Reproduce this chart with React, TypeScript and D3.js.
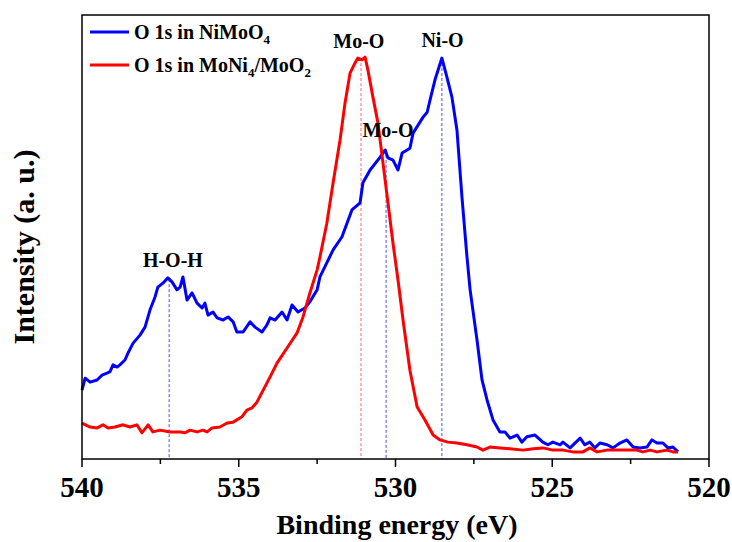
import React from "react";
import * as d3 from "d3";

const blueEnergy = [540.0,539.9,539.74,539.52,539.36,539.11,539.01,538.88,538.79,538.63,538.53,538.37,538.15,537.99,537.83,537.67,537.58,537.42,537.26,537.13,536.97,536.87,536.78,536.65,536.49,536.33,536.17,536.08,535.98,535.82,535.69,535.5,535.34,535.18,535.06,534.86,534.64,534.48,534.26,534.1,534.0,533.84,533.62,533.46,533.3,533.11,532.89,532.73,532.5,532.41,531.99,531.71,531.39,531.13,531.04,530.81,530.49,530.33,530.24,530.08,529.92,529.79,529.63,529.54,529.44,529.28,529.12,528.99,528.9,528.74,528.52,528.36,528.2,528.04,527.88,527.72,527.62,527.4,527.24,527.08,526.89,526.67,526.51,526.35,526.12,525.97,525.81,525.55,525.3,525.14,524.98,524.75,524.66,524.43,524.11,523.96,523.8,523.64,523.48,523.25,523.06,522.84,522.62,522.42,522.2,521.98,521.82,521.66,521.47,521.31,521.15,520.99];
const blueIntensity = [15.5,18.2,17.3,17.8,18.9,19.6,21.2,20.7,21.2,22.3,23.9,26.1,27.9,29.7,33.6,36.5,38.7,39.6,40.8,39.9,38.1,38.7,41.0,35.8,37.4,35.1,34.0,35.1,32.4,33.1,31.8,31.3,32.0,30.9,28.6,28.6,30.9,29.7,28.6,30.2,31.8,31.3,33.1,31.3,34.7,33.1,34.0,35.4,38.1,41.0,47.1,50.0,56.1,57.7,62.2,65.1,68.0,69.6,67.8,67.3,65.1,68.9,69.6,70.0,73.4,75.2,77.0,78.1,80.8,85.4,90.3,86.0,81.5,74.1,59.0,45.5,38.1,26.8,17.8,13.3,8.8,6.1,6.1,4.7,5.4,3.8,5.0,5.4,3.8,3.2,3.8,3.2,3.8,2.5,4.7,3.2,3.8,2.5,3.6,3.2,2.5,3.6,4.3,2.7,2.5,2.7,4.3,3.6,3.6,2.5,2.7,1.6];

const redEnergy = [540.0,539.74,539.52,539.33,539.17,538.95,538.69,538.47,538.25,538.09,537.89,537.74,537.51,537.19,536.87,536.71,536.56,536.33,536.14,536.01,535.85,535.6,535.37,535.18,534.9,534.74,534.58,534.42,534.0,533.78,533.46,533.14,532.95,532.73,532.5,532.41,532.19,531.99,531.77,531.61,531.45,531.29,531.2,531.07,530.97,530.88,530.72,530.56,530.4,530.24,530.08,529.92,529.76,529.54,529.31,529.06,528.8,528.58,528.33,528.04,527.72,527.4,527.21,526.99,526.67,526.35,525.93,525.61,525.3,524.98,524.66,524.34,524.02,523.8,523.57,523.25,522.93,522.62,522.3,522.11,521.88,521.66,521.34,521.15,520.99];
const redIntensity = [8.1,7.2,7.0,7.7,7.0,7.2,7.7,7.2,7.7,5.9,7.7,6.1,6.5,6.1,6.1,5.9,6.5,6.1,6.5,6.1,7.0,7.2,8.1,8.3,9.5,11.0,11.5,12.8,18.5,21.6,25.0,28.4,32.0,37.4,42.6,45.5,53.1,62.2,71.8,80.2,86.9,89.2,90.3,89.9,90.5,87.6,81.5,75.7,66.7,57.7,48.6,40.3,31.3,20.0,11.7,8.8,5.4,4.3,3.8,3.6,3.2,2.7,2.0,2.7,2.5,2.3,2.0,2.3,2.5,2.0,2.0,1.6,1.6,2.5,1.6,2.0,2.0,2.0,2.0,1.6,2.0,1.6,2.0,1.6,1.6];

const majorTicks = [540, 535, 530, 525, 520];
const minorTicks = [537.5, 532.5, 527.5, 522.5];

// reference lines: energy, top intensity, colour
const refEnergy = [531.1, 530.3, 528.52, 537.22];
const refTop = [90.3, 68.5, 90.3, 40.5];
const refColor = ["#ff6666", "#4d4dff", "#4d4dff", "#4d4dff"];

const peakLabels = ["Mo-O", "Ni-O", "Mo-O", "H-O-H"];
const peakEnergy = [531.17, 528.5, 530.24, 537.1];
const peakIntensity = [92.5, 92.8, 72.5, 43.2];

const W = 732, H = 542;
const left = 82, right = 709, top = 15, bottom = 459;
const FONT = "'Liberation Serif', 'Times New Roman', serif";

export default function App() {
  const x = d3.scaleLinear().domain([540, 520]).range([left, right]);
  const y = d3.scaleLinear().domain([0, 100]).range([bottom, top]);
  const line = d3.line<[number, number]>().x(d => x(d[0])).y(d => y(d[1]));
  const blue = blueEnergy.map((e, i) => [e, blueIntensity[i]] as [number, number]);
  const red = redEnergy.map((e, i) => [e, redIntensity[i]] as [number, number]);

  return (
    <div style={{ position: "absolute", left: 0, top: 0 }}>
      <svg width={W} height={H} style={{ display: "block", background: "#fff" }} fontFamily={FONT} fontWeight="bold">
        {refEnergy.map((e, i) => (
          <line key={"r" + i} x1={x(e)} x2={x(e)} y1={y(refTop[i])} y2={bottom}
            stroke={refColor[i]} strokeWidth={1} strokeDasharray="3,2" />
        ))}
        <path d={line(blue) || ""} fill="none" stroke="#0000ff" strokeWidth={3} strokeLinejoin="round" />
        <path d={line(red) || ""} fill="none" stroke="#ff0000" strokeWidth={3} strokeLinejoin="round" />
        <rect x={left} y={top} width={right - left} height={bottom - top} fill="none" stroke="#000" strokeWidth={1.5} />
        {majorTicks.map(t => (
          <g key={"M" + t}>
            <line x1={x(t)} x2={x(t)} y1={bottom} y2={bottom + 8} stroke="#000" strokeWidth={1.5} />
            <text x={x(t)} y={497} textAnchor="middle" fontSize={29}>{t}</text>
          </g>
        ))}
        {minorTicks.map(t => (
          <line key={"m" + t} x1={x(t)} x2={x(t)} y1={bottom} y2={bottom + 5} stroke="#000" strokeWidth={1.5} />
        ))}
        <text x={397} y={534} textAnchor="middle" fontSize={28}>Binding energy (eV)</text>
        <text transform="translate(34,247) rotate(-90)" textAnchor="middle" fontSize={30}>Intensity (a. u.)</text>
        {peakLabels.map((t, i) => (
          <text key={"p" + i} x={x(peakEnergy[i])} y={y(peakIntensity[i])} textAnchor="middle" fontSize={20}>{t}</text>
        ))}
        <line x1={90} x2={129} y1={32} y2={32} stroke="#0000ff" strokeWidth={3} />
        <text x={134} y={39} fontSize={20}>O 1s in NiMoO<tspan fontSize={13} dy={5}>4</tspan></text>
        <line x1={90} x2={129} y1={65} y2={65} stroke="#ff0000" strokeWidth={3} />
        <text x={134} y={72} fontSize={20}>O 1s in MoNi<tspan fontSize={13} dy={5}>4</tspan><tspan dy={-5}>/MoO</tspan><tspan fontSize={13} dy={5}>2</tspan></text>
      </svg>
    </div>
  );
}
